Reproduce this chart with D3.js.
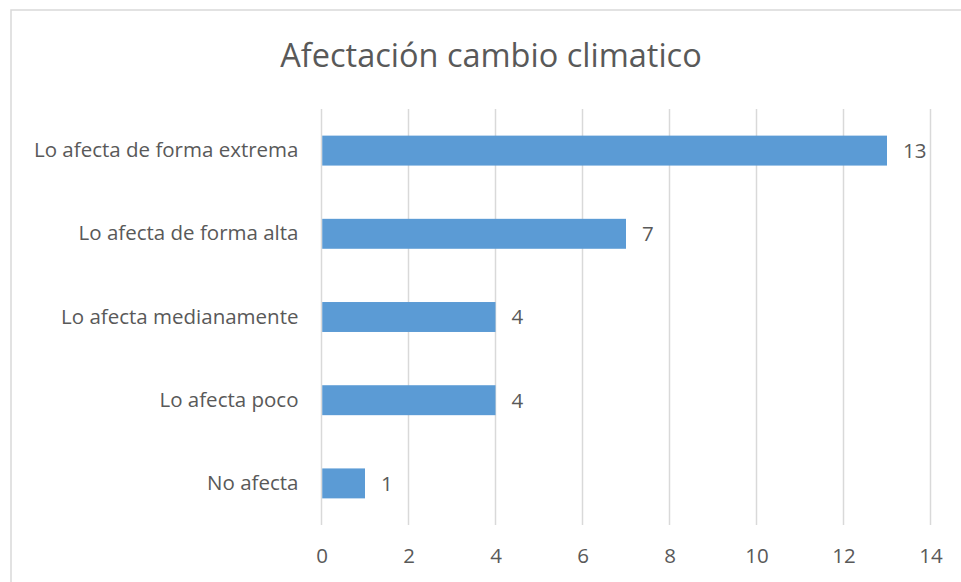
<!DOCTYPE html>
<html>
<head>
<meta charset="utf-8">
<script src="https://cdn.jsdelivr.net/npm/d3@7/dist/d3.min.js"></script>
<style>
  html, body { margin: 0; padding: 0; background: #fff; }
  svg { display: block; }
  text { font-family: "Open Sans", "Noto Sans", sans-serif; fill: #595959; }
</style>
</head>
<body>
<svg id="chart" width="961" height="582"></svg>
<script>
const title = "Afectación cambio climatico";
const categories = [
  "Lo afecta de forma extrema",
  "Lo afecta de forma alta",
  "Lo afecta medianamente",
  "Lo afecta poco",
  "No afecta"
];
const values = [13, 7, 4, 4, 1];
const xTicks = [0, 2, 4, 6, 8, 10, 12, 14];

const svg = d3.select("#chart");
const FONT = '"Open Sans", "Noto Sans", sans-serif';

// outer chart frame (extends past right/bottom edges)
svg.append("rect")
  .attr("x", 11).attr("y", 10)
  .attr("width", 1000).attr("height", 700)
  .attr("fill", "#fff")
  .attr("stroke", "#D9D9D9").attr("stroke-width", 1.5);

const x = d3.scaleLinear().domain([0, 14]).range([321.5, 930.5]);
const y = d3.scaleBand().domain(categories).range([109, 525])
  .paddingInner(0.64).paddingOuter(0.32);

// gridlines
svg.append("g").selectAll("line").data(xTicks).join("line")
  .attr("x1", d => x(d)).attr("x2", d => x(d))
  .attr("y1", 109).attr("y2", 525)
  .attr("stroke", "#D9D9D9").attr("stroke-width", 1.5);

// x axis labels
const xAxis = d3.axisBottom(x).tickValues(xTicks).tickSize(0).tickPadding(0).tickFormat(d3.format("d"));
const gx = svg.append("g").attr("transform", "translate(0,548)").call(xAxis);
gx.select(".domain").remove();
gx.selectAll("text").attr("font-size", 20.5).attr("fill", "#595959").style("font-family", FONT);

// y axis labels
const yAxis = d3.axisLeft(y).tickSize(0).tickPadding(23);
const gy = svg.append("g").attr("transform", `translate(${x(0)},0)`).call(yAxis);
gy.select(".domain").remove();
gy.selectAll("text").attr("font-size", 20.5).attr("fill", "#595959").style("font-family", FONT);

// bars
const data = categories.map((c, i) => ({c, v: values[i]}));
svg.append("g").selectAll("rect").data(data).join("rect")
  .attr("x", x(0) + 0.75)
  .attr("y", d => y(d.c))
  .attr("width", d => x(d.v) - x(0) - 0.75)
  .attr("height", y.bandwidth())
  .attr("fill", "#5B9BD5");

// value labels
svg.append("g").selectAll("text").data(data).join("text")
  .attr("x", d => x(d.v) + 16)
  .attr("y", d => y(d.c) + y.bandwidth() / 2)
  .attr("dy", "0.36em")
  .attr("font-size", 20.5)
  .text(d => d.v);

// title
svg.append("text")
  .attr("x", 491).attr("y", 67)
  .attr("text-anchor", "middle")
  .attr("font-size", 32.5)
  .text(title);
</script>
</body>
</html>
